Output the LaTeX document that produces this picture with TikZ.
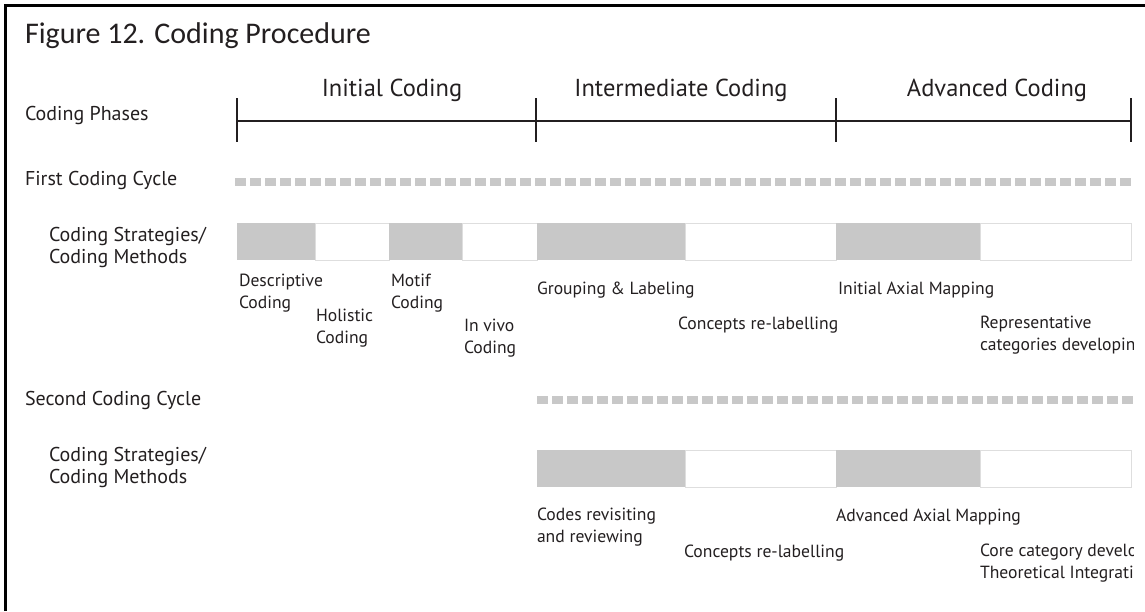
\documentclass[tikz,border=0pt]{standalone}
\usepackage{fontspec}
\setmainfont{PT Sans}
\newfontfamily\titlefont{Carlito}
\definecolor{codegray}{HTML}{C8C8C8}
\definecolor{inkgray}{HTML}{231F20}

\begin{document}
\begin{tikzpicture}[x=1pt,y=-1pt,
  every node/.style={inner sep=0pt, outer sep=0pt, text=inkgray},
  side/.style={anchor=west, align=left, font=\fontsize{20}{22}\selectfont},
  lbl/.style={anchor=west, align=left, font=\fontsize{17.6}{21.5}\selectfont},
  phase/.style={font=\fontsize{24.5}{30}\selectfont},
  fullbox/.style={fill=codegray, minimum height=37pt, anchor=north west},
  emptybox/.style={draw=black!13, line width=1pt, fill=white, minimum height=37pt, anchor=north west},
  cycleline/.style={draw=codegray, line width=8pt, dash pattern=on 11pt off 4pt},
  tick/.style={draw=inkgray, line width=2pt}]

\useasboundingbox (0,0) rectangle (1145,611);
\draw[line width=3pt] (5,611) -- (5,5) -- (1145,5);

\node[anchor=base west, font=\titlefont\fontsize{30}{36}\selectfont] (title) at (25,43) {Figure 12. Coding Procedure};

% coding phases
\coordinate (p0) at (237,121);
\coordinate (p1) at (536,121);
\coordinate (p2) at (836,121);
\coordinate (p3) at (1131,121);
\draw[tick] (p0) -- (p3);
\foreach \p in {p0,p1,p2,p3}
  \draw[tick] ([yshift=23pt]\p) -- ([yshift=-21pt]\p);

\node[phase] (initial) at (392,90) {Initial Coding};
\node[phase] (intermediate) at (681,90) {Intermediate Coding};
\node[phase] (advanced) at (997,90) {Advanced Coding};

\node[side] (phases) at (25,115) {Coding Phases};
\node[side] (first) at (25,180) {First Coding Cycle};
\node[side] (methodsA) at (49,247) {Coding Strategies/\\Coding Methods};
\node[side] (second) at (25,400) {Second Coding Cycle};
\node[side] (methodsB) at (49,467) {Coding Strategies/\\Coding Methods};

% coding cycles
\coordinate (c1s) at (235,182);
\coordinate (c1e) at (1133,182);
\coordinate (c2s) at (537,400);
\coordinate (c2e) at (1133,400);
\draw[cycleline] (c1s) -- (c1e);
\draw[cycleline] (c2s) -- (c2e);

% first cycle methods
\node[fullbox, minimum width=78pt] (a1) at (237,223) {};
\node[emptybox, minimum width=74pt] (a2) at (315,223) {};
\node[fullbox, minimum width=73pt] (a3) at (389,223) {};
\node[emptybox, minimum width=75pt] (a4) at (462,223) {};
\node[fullbox, minimum width=148pt] (a5) at (537,223) {};
\node[emptybox, minimum width=151pt] (a6) at (685,223) {};
\node[fullbox, minimum width=144pt] (a7) at (836,223) {};
\node[emptybox, minimum width=151pt] (a8) at (980,223) {};

\node[lbl] (descriptive) at (239,293) {Descriptive\\Coding};
\node[lbl] (holistic) at (316,328) {Holistic\\Coding};
\node[lbl] (motif) at (391,293) {Motif\\Coding};
\node[lbl] (invivo) at (464,338) {In vivo\\Coding};
\node[lbl] (grouping) at (537,290) {Grouping \& Labeling};
\node[lbl] (relabelA) at (678,325) {Concepts re-labelling};
\node[lbl] (initaxial) at (838,290) {Initial Axial Mapping};

% second cycle methods
\node[fullbox, minimum width=148pt] (b1) at (537,450) {};
\node[emptybox, minimum width=151pt] (b2) at (685,450) {};
\node[fullbox, minimum width=144pt] (b3) at (836,450) {};
\node[emptybox, minimum width=151pt] (b4) at (980,450) {};

\node[lbl] (revisit) at (537,527) {Codes revisiting\\and reviewing};
\node[lbl] (relabelB) at (684,553) {Concepts re-labelling};
\node[lbl] (advaxial) at (836,517) {Advanced Axial Mapping};

\begin{scope}
  \clip (0,0) rectangle (1133,611);
  \node[lbl] (represent) at (980,335) {Representative\\categories developing};
  \node[lbl] (core) at (980,563) {Core category development\\Theoretical Integration};
\end{scope}
\end{tikzpicture}
\end{document}
